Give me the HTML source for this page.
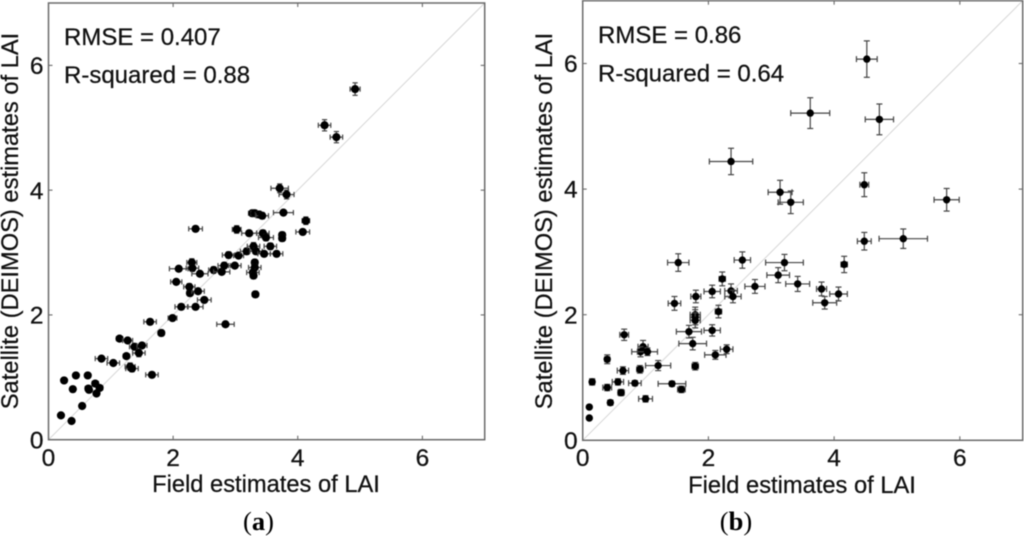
<!DOCTYPE html>
<html lang="en">
<head>
<meta charset="utf-8">
<title>Satellite vs field estimates of LAI</title>
<style>
html,body{margin:0;padding:0;background:#fff;}
body{width:1024px;height:536px;overflow:hidden;}
#figure{display:block;filter:blur(0.6px);}
text{font-family:"Liberation Sans",Arial,sans-serif;fill:#111;stroke:#111;stroke-width:0.25px;}
.caption{font-family:"Liberation Serif","Times New Roman",serif;font-size:26.5px;fill:#000;stroke:none;}
</style>
</head>
<body>
<svg id="figure" xmlns="http://www.w3.org/2000/svg" width="1024" height="536" viewBox="0 0 1024 536">
  <rect x="0" y="0" width="1024" height="536" fill="#fff"/>
  <g id="panel-a"></g>
  <g id="panel-b"></g>
  <text class="caption" x="258.5" y="530" text-anchor="middle">(<tspan font-weight="bold">a</tspan>)</text>
  <text class="caption" x="736" y="530" text-anchor="middle">(<tspan font-weight="bold">b</tspan>)</text>
</svg>
<script>
const tickValues = [2, 4, 6];
const tickLabels = [0, 2, 4, 6];
const axisMax = [7];

const aField = [.20,.37,.54,.25,.39,.44,.63,.64,.65,.75,.82,.77,.85,1.04,1.14,1.27,1.25,1.31,1.34,1.38,1.50,1.45,1.66,1.81,1.63,1.99,2.13,2.36,2.50,2.84,2.27,2.40,2.26,2.05,3.32,2.09,2.30,2.31,2.43,2.65,2.78,2.82,2.99,2.89,3.05,3.18,3.29,3.33,3.46,3.66,3.56,3.31,3.31,3.28,3.29,2.36,3.02,3.22,3.44,3.49,3.75,3.75,4.08,4.13,3.27,3.31,3.38,3.43,3.77,3.71,3.82,4.43,4.62,4.92];
const aSatellite = [.39,.30,.54,.95,.81,1.03,1.03,.82,.80,.90,.83,.74,1.30,1.23,1.62,1.59,1.34,1.17,1.14,1.49,1.51,1.39,1.04,1.71,1.89,1.95,2.13,2.13,2.24,1.85,2.35,2.38,2.45,2.53,2.33,2.74,2.84,2.75,2.66,2.72,2.69,2.79,2.79,2.96,2.95,3.02,3.10,3.02,2.98,2.98,3.10,2.84,2.76,2.68,2.63,3.38,3.37,3.31,3.31,3.24,3.28,3.23,3.33,3.51,3.63,3.63,3.61,3.59,3.64,4.03,3.93,5.04,4.85,5.62];
const aFieldErr = [.02,.03,.03,.04,.03,.04,.04,.05,.04,.05,.05,.04,.1,.1,.05,.08,.05,.08,.1,.08,.08,.1,.1,.05,.1,.07,.1,.12,.11,.14,.05,.1,.09,.09,.05,.15,.08,.1,.13,.08,.13,.1,.1,.1,.08,.1,.1,.1,.1,.1,.1,.05,.1,.1,.05,.11,.07,.12,.1,.12,.05,.05,.11,.06,.06,.06,.06,.1,.16,.14,.12,.1,.1,.08];
const aSatelliteErr = [.02,.02,.03,.04,.04,.04,.04,.04,.03,.04,.04,.04,.03,.03,.04,.03,.04,.06,.05,.04,.04,.06,.03,.05,.03,.04,.03,.03,.03,.03,.05,.03,.05,.04,.05,.03,.06,.05,.03,.05,.04,.05,.04,.05,.04,.05,.06,.05,.04,.04,.05,.05,.05,.05,.05,.04,.06,.03,.05,.05,.05,.05,.04,.06,.05,.05,.05,.05,.04,.07,.07,.09,.09,.1];

const bField = [.105,.105,.44,.61,1.0,.83,.56,.39,.15,.64,.91,.39,.66,.96,.92,1.03,1.20,1.42,1.57,1.79,1.75,1.69,2.06,2.11,1.79,1.79,1.79,2.29,2.16,1.80,2.06,2.22,2.36,2.39,2.54,2.74,3.21,3.11,3.42,3.80,4.07,3.85,4.16,4.48,4.52,3.62,4.72,4.48,3.14,3.31,5.79,5.10,2.36,1.52,1.46];
const bSatellite = [.355,.53,.60,.76,.66,.91,.93,.84,.93,1.11,1.13,1.29,1.68,1.49,1.41,1.41,1.19,.90,.81,1.18,1.54,1.73,1.75,1.36,1.96,2.0,1.91,1.45,2.05,2.29,2.37,2.57,2.38,2.29,2.87,2.45,2.83,2.63,2.49,2.41,2.33,2.19,2.80,3.17,6.07,5.21,5.11,4.07,3.95,3.79,3.83,3.21,4.44,2.83,2.18];
const bFieldErr = [.02,.02,.04,.05,.11,.1,.09,.07,.04,.09,.05,.04,.07,.08,.14,.16,.2,.22,.06,.05,.22,.2,.13,.17,.08,.08,.08,.1,.05,.08,.13,.05,.1,.13,.13,.16,.3,.18,.19,.08,.14,.19,.05,.11,.165,.31,.225,.07,.19,.2,.2,.385,.345,.17,.1];
const bSatelliteErr = [.02,.02,.04,.05,.05,.04,.05,.05,.05,.06,.06,.07,.09,.1,.08,.06,.08,.04,.05,.06,.1,.1,.09,.07,.12,.12,.12,.07,.1,.1,.1,.11,.11,.1,.13,.11,.13,.12,.12,.11,.11,.1,.13,.14,.29,.245,.245,.19,.19,.18,.18,.155,.21,.14,.11];

const SVGNS = 'http://www.w3.org/2000/svg';

function line(parent, x1, y1, x2, y2, stroke, width) {
  const el = document.createElementNS(SVGNS, 'line');
  el.setAttribute('x1', x1);
  el.setAttribute('y1', y1);
  el.setAttribute('x2', x2);
  el.setAttribute('y2', y2);
  el.setAttribute('stroke', stroke);
  el.setAttribute('stroke-width', width);
  parent.appendChild(el);
  return el;
}

function label(parent, x, y, size, anchor, content) {
  const el = document.createElementNS(SVGNS, 'text');
  el.setAttribute('x', x);
  el.setAttribute('y', y);
  el.setAttribute('font-size', size);
  el.setAttribute('text-anchor', anchor);
  el.textContent = content;
  parent.appendChild(el);
  return el;
}

function drawPanel(cfg) {
  const root = document.getElementById(cfg.id);
  const sx = v => cfg.left + (cfg.right - cfg.left) * v / axisMax[0];
  const sy = v => cfg.bottom - (cfg.bottom - cfg.top) * v / axisMax[0];

  const diagonal = line(root, sx(0), sy(0), sx(axisMax[0]), sy(axisMax[0]), '#d6d6d6', 1);
  
  

  const frame = document.createElementNS(SVGNS, 'rect');
  frame.setAttribute('x', sx(0));
  frame.setAttribute('y', sy(axisMax[0]));
  frame.setAttribute('width', sx(axisMax[0]) - sx(0));
  frame.setAttribute('height', sy(0) - sy(axisMax[0]));
  frame.setAttribute('fill', 'none');
  frame.setAttribute('stroke', '#6a6a6a');
  frame.setAttribute('stroke-width', '1.5');
  
  
  root.appendChild(frame);

  tickValues.forEach(v => {
    const t1 = line(root, sx(v), sy(0), sx(v), sy(0) - 4, '#6a6a6a', 1.1);
    
    
    const t2 = line(root, sx(v), sy(axisMax[0]), sx(v), sy(axisMax[0]) + 4, '#6a6a6a', 1.1);
    
    
    const t3 = line(root, sx(0), sy(v), sx(0) + 4, sy(v), '#6a6a6a', 1.1);
    
    
    const t4 = line(root, sx(axisMax[0]), sy(v), sx(axisMax[0]) - 4, sy(v), '#6a6a6a', 1.1);
    
    
  });

  tickLabels.forEach(v => {
    const xl = label(root, sx(v), cfg.xTickBase, 24.5, 'middle', String(v));
    
    
    const yl = label(root, sx(0) - 5, sy(v) + 8.6, 24.5, 'end', String(v));
    
    
  });

  const xt = label(root, cfg.xTitleX, cfg.xTitleY, 23.7, 'middle', 'Field estimates of LAI');
  
  

  const yt = label(root, 0, 0, 23.7, 'middle', 'Satellite (DEIMOS) estimates of LAI');
  yt.setAttribute('transform', 'translate(' + cfg.yTitleX + ' 221) rotate(-90)');
  
  

  const s1 = label(root, cfg.statX, cfg.statY1, 24, 'start', cfg.stat1);
  
  
  const s2 = label(root, cfg.statX, cfg.statY2, 24, 'start', cfg.stat2);
  
  

  cfg.xs.forEach((xv, i) => {
    const yv = cfg.ys[i], xe = cfg.xe[i], ye = cfg.ye[i];
    const g = document.createElementNS(SVGNS, 'g');
    
    
    const c = cfg.cap;
    line(g, sx(xv - xe), sy(yv), sx(xv + xe), sy(yv), '#444', 1.2);
    line(g, sx(xv), sy(yv - ye), sx(xv), sy(yv + ye), '#444', 1.2);
    line(g, sx(xv - xe), sy(yv) - c, sx(xv - xe), sy(yv) + c, '#444', 1.2);
    line(g, sx(xv + xe), sy(yv) - c, sx(xv + xe), sy(yv) + c, '#444', 1.2);
    line(g, sx(xv) - c, sy(yv - ye), sx(xv) + c, sy(yv - ye), '#444', 1.2);
    line(g, sx(xv) - c, sy(yv + ye), sx(xv) + c, sy(yv + ye), '#444', 1.2);
    const dot = document.createElementNS(SVGNS, 'circle');
    dot.setAttribute('cx', sx(xv));
    dot.setAttribute('cy', sy(yv));
    dot.setAttribute('r', cfg.r);
    dot.setAttribute('fill', '#000');
    g.appendChild(dot);
    root.appendChild(g);
  });
}

drawPanel({id:'panel-a', left:48.5, right:484.7, top:3, bottom:439.7,
  xs:aField, ys:aSatellite, xe:aFieldErr, ye:aSatelliteErr, r:4.1, cap:2.6,
  xTickBase:466, xTitleX:266, xTitleY:492, yTitleX:18,
  statX:64, statY1:45, statY2:83, stat1:'RMSE = 0.407', stat2:'R-squared = 0.88'});

drawPanel({id:'panel-b', left:582.7, right:1022.7, top:0.7, bottom:440.3,
  xs:bField, ys:bSatellite, xe:bFieldErr, ye:bSatelliteErr, r:3.7, cap:3,
  xTickBase:466, xTitleX:802, xTitleY:493, yTitleX:552,
  statX:598, statY1:43, statY2:81.5, stat1:'RMSE = 0.86', stat2:'R-squared = 0.64'});
</script>
</body>
</html>
